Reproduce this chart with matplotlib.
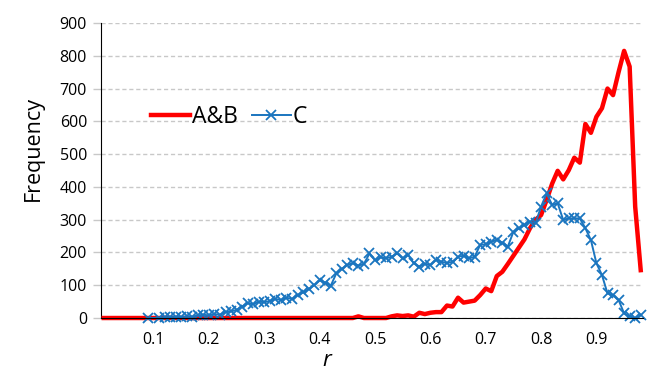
import numpy as np
import matplotlib.pyplot as plt

# A&B: r = 0.01 ... 0.98
ab_r = np.round(np.arange(1, 99) / 100, 2)
ab_freq = [0, 0, 0, 0, 0, 0, 0, 0, 0, 0,
           0, 0, 0, 0, 0, 0, 0, 0, 0, 0,
           0, 0, 0, 0, 0, 0, 0, 0, 0, 0,
           0, 0, 0, 0, 0, 0, 0, 0, 0, 0,
           0, 0, 0, 0, 0, 0, 5, 0, 0, 0,
           0, 0, 5, 8, 6, 8, 4, 16, 12, 16,
           18, 18, 38, 35, 62, 47, 50, 53, 70, 90,
           82, 128, 141, 165, 190, 215, 240, 274, 300, 314,
           360, 410, 449, 423, 451, 489, 474, 592, 565, 614,
           640, 700, 680, 750, 815, 767, 340, 146]

# C: r = 0.09, 0.11 ... 0.98
c_r = np.round(np.concatenate([[9], np.arange(11, 99)]) / 100, 2)
c_freq = [0, 0, 3, 2, 4, 3, 5, 4, 8, 10,
          8, 12, 10, 18, 20, 25, 35, 45, 42, 50,
          48, 52, 58, 55, 62, 58, 70, 78, 88, 100,
          115, 108, 98, 136, 150, 162, 167, 160, 165, 197,
          177, 185, 182, 187, 197, 182, 192, 167, 157, 165,
          162, 177, 172, 167, 172, 187, 190, 182, 187, 223,
          225, 233, 238, 230, 218, 263, 274, 284, 294, 289,
          340, 380, 345, 350, 299, 304, 304, 304, 274, 238,
          167, 131, 75, 70, 55, 14, 5, 0, 9]

xticks = [0.1, 0.2, 0.3, 0.4, 0.5, 0.6, 0.7, 0.8, 0.9]
yticks = [0, 100, 200, 300, 400, 500, 600, 700, 800, 900]

plt.rcParams['font.family'] = ['Open Sans', 'DejaVu Sans']

fig = plt.figure(figsize=(6.49, 3.74), dpi=100)
ax = fig.add_axes([0.1556, 0.1497, 0.9915 - 0.1556, 0.9385 - 0.1497])

ax.plot(ab_r, ab_freq, color='#FF0000', lw=3.2, label='A&B', zorder=3, clip_on=False)
ax.plot(c_r, c_freq, color='#1A75BF', lw=1.4, marker='x', ms=7, mew=1.3,
        label='C', zorder=4, clip_on=False)

ax.set_xlim(0.005, 0.985)
ax.set_ylim(0, 900)
ax.set_xticks(xticks)
ax.set_xticklabels([f'{t:.1f}' for t in xticks])
ax.set_yticks(yticks)

ax.yaxis.grid(True, color='#c8c8c8', linestyle=(0, (3, 2)), lw=1)
ax.set_axisbelow(True)
ax.tick_params(axis='x', length=0, pad=10, labelsize=11.5)
ax.tick_params(axis='y', length=6, color='#c8c8c8', width=1, pad=4, labelsize=11.5)

for s in ['top', 'right']:
    ax.spines[s].set_visible(False)
ax.spines['left'].set_color('black')
ax.spines['bottom'].set_color('black')
ax.spines['bottom'].set_zorder(5)

ax.set_ylabel('Frequency', fontsize=15.5)
ax.yaxis.set_label_coords(-0.105, 0.576)
ax.set_xlabel('r', fontsize=16, style='italic')
ax.xaxis.set_label_coords(0.417, -0.11)

ax.legend(loc='center left', bbox_to_anchor=(0.092, 0.681), ncol=2, frameon=False,
          fontsize=16.5, handlelength=1.7, handletextpad=0.1, columnspacing=0.6,
          borderaxespad=0, borderpad=0)

plt.savefig('out.png', dpi=100)
